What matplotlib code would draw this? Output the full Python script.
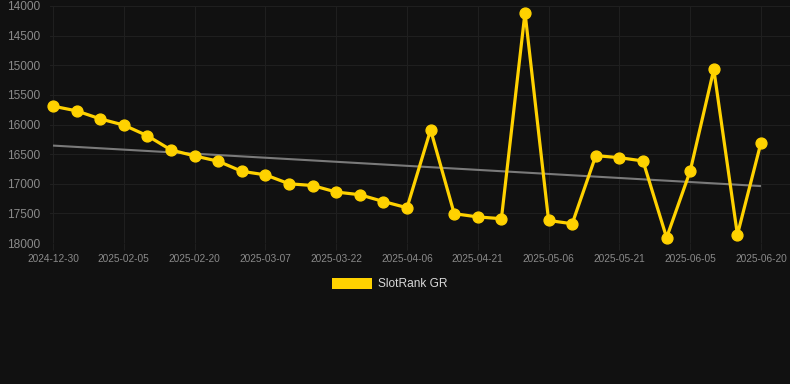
import numpy as np
import matplotlib
matplotlib.use("Agg")
import matplotlib.pyplot as plt
from matplotlib.patches import Rectangle

# ---- data ----
ranks = [15690, 15770, 15905, 16010, 16190, 16430, 16530, 16620, 16790, 16850,
         17000, 17030, 17140, 17185, 17300, 17405, 16090, 17505, 17560, 17590,
         14110, 17620, 17675, 16525, 16560, 16615, 17910, 16785, 15070, 17860,
         16305]
tick_labels = ["2024-12-30", "2025-02-05", "2025-02-20", "2025-03-07", "2025-03-22",
               "2025-04-06", "2025-04-21", "2025-05-06", "2025-05-21", "2025-06-05",
               "2025-06-20"]
tick_every = 3
series_name = "SlotRank GR"
y_ticks = [14000, 14500, 15000, 15500, 16000, 16500, 17000, 17500, 18000]

# ---- style ----
BG = "#111111"
GRID = "#1f1f1f"
TICK = "#8a8a8a"
GOLD = "#FFD200"
TREND = "#7a7a7a"

plt.rcParams['font.family'] = ['Liberation Sans', 'DejaVu Sans']

W, H, DPI = 790, 384, 100
fig = plt.figure(figsize=(W / DPI, H / DPI), dpi=DPI, facecolor=BG)
left, right, top, bottom = 50, 790, 6, 243
ax = fig.add_axes([left / W, 1 - bottom / H, (right - left) / W, (bottom - top) / H])
ax.set_facecolor(BG)

x = np.arange(len(ranks))
px_per = (761 - 53) / (len(ranks) - 1)
ax.set_xlim(-(53 - left) / px_per, (len(ranks) - 1) + (right - 761) / px_per)
ax.set_ylim(18000, 14000)

# trend line (linear fit)
coef = np.polyfit(x, ranks, 1)
ax.plot(x, np.polyval(coef, x), color=TREND, lw=1.5, zorder=2, solid_capstyle='butt')

ax.plot(x, ranks, color=GOLD, lw=2.3, marker='o', markersize=7.8,
        markerfacecolor=GOLD, markeredgecolor=GOLD, zorder=3, clip_on=False)

tick_pos = x[::tick_every]
ax.set_xticks(tick_pos)
ax.set_xticklabels(tick_labels)
ax.set_yticks(y_ticks)
ax.set_yticklabels([str(v) for v in y_ticks])

ax.grid(True, color=GRID, lw=0.8, zorder=0)
for s in ax.spines.values():
    s.set_visible(False)
ax.tick_params(axis='x', colors=GRID, labelcolor=TICK, labelsize=7.3, length=5, width=0.8, pad=3)
ax.tick_params(axis='y', colors=GRID, labelcolor=TICK, labelsize=8.6, length=0, pad=7)

# legend
lx, ly = 332 / W, 1 - 289.3 / H
fig.patches.append(Rectangle((lx, ly), 40 / W, 11 / H, transform=fig.transFigure,
                             facecolor=GOLD, edgecolor='none'))
fig.text(378 / W, 1 - 284 / H, series_name, color="#d8d8d8", fontsize=8.6,
         va='center', ha='left')

fig.savefig("out.png", dpi=DPI, facecolor=BG)
